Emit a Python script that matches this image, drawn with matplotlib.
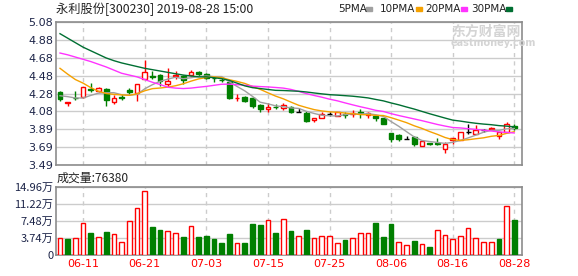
import numpy as np
import pandas as pd
import matplotlib
matplotlib.use('Agg')
import matplotlib.pyplot as plt

plt.rcParams['font.family'] = ['DejaVu Sans', 'Noto Sans CJK SC']
CJK = ['Noto Sans CJK SC', 'DejaVu Sans']

# trading days shown (Dragon Boat holiday 06-07 removed)
dates = pd.bdate_range('2019-06-05', '2019-08-28').drop(pd.Timestamp('2019-06-07'))
labels = [d.strftime('%m-%d') for d in dates]
tick_dates = ['06-11', '06-21', '07-03', '07-15', '07-25', '08-06', '08-16', '08-28']

opens = [4.306, 4.180, 4.240, 4.250, 4.332, 4.317, 4.335, 4.187, 4.250, 4.320,
         4.291, 4.443, 4.480, 4.491, 4.395, 4.484, 4.484, 4.487, 4.528, 4.502,
         4.462, 4.440, 4.417, 4.235, 4.250, 4.232, 4.158, 4.109, 4.135, 4.128,
         4.135, 4.083, 4.069, 3.987, 4.017, 4.054, 4.035, 4.061, 4.054, 4.075,
         4.046, 4.039, 4.009, 3.843, 3.824, 3.780, 3.798, 3.698, 3.739, 3.739,
         3.665, 3.765, 3.768, 3.861, 3.839, 3.880, 3.891, 3.817, 3.854, 3.920]
highs = [4.313, 4.194, 4.313, 4.360, 4.398, 4.354, 4.343, 4.269, 4.276, 4.343,
         4.395, 4.658, 4.539, 4.498, 4.565, 4.535, 4.491, 4.546, 4.539, 4.509,
         4.480, 4.454, 4.432, 4.276, 4.257, 4.243, 4.172, 4.176, 4.169, 4.183,
         4.150, 4.128, 4.091, 4.013, 4.076, 4.076, 4.083, 4.083, 4.098, 4.113,
         4.076, 4.046, 4.017, 3.850, 3.835, 3.817, 3.817, 3.757, 3.739, 3.787,
         3.750, 3.794, 3.861, 3.943, 3.935, 3.891, 3.913, 3.854, 3.965, 3.943]
lows = [4.202, 4.146, 4.213, 4.240, 4.306, 4.298, 4.150, 4.172, 4.213, 4.276,
        4.206, 4.443, 4.446, 4.372, 4.361, 4.443, 4.395, 4.484, 4.484, 4.446,
        4.417, 4.417, 4.224, 4.202, 4.194, 4.128, 4.083, 4.076, 4.113, 4.098,
        4.069, 4.083, 3.972, 3.972, 4.009, 4.032, 4.035, 4.009, 4.028, 4.009,
        4.017, 3.980, 3.950, 3.750, 3.757, 3.780, 3.705, 3.698, 3.709, 3.713,
        3.628, 3.724, 3.768, 3.831, 3.839, 3.861, 3.876, 3.776, 3.854, 3.880]
closes = [4.220, 4.190, 4.232, 4.358, 4.321, 4.346, 4.209, 4.239, 4.240, 4.298,
          4.387, 4.521, 4.469, 4.424, 4.424, 4.491, 4.439, 4.521, 4.498, 4.454,
          4.452, 4.435, 4.232, 4.240, 4.206, 4.150, 4.113, 4.139, 4.130, 4.158,
          4.083, 4.083, 3.980, 4.013, 4.054, 4.054, 4.076, 4.046, 4.065, 4.065,
          4.072, 4.017, 3.950, 3.780, 3.780, 3.780, 3.724, 3.757, 3.720, 3.728,
          3.720, 3.787, 3.861, 3.861, 3.880, 3.880, 3.898, 3.854, 3.946, 3.906]

ma5 = [4.26, 4.25, 4.235, 4.235, 4.264, 4.289, 4.293, 4.294, 4.271, 4.266,
       4.275, 4.337, 4.383, 4.420, 4.445, 4.466, 4.449, 4.460, 4.474, 4.480,
       4.473, 4.473, 4.415, 4.363, 4.314, 4.253, 4.188, 4.170, 4.148, 4.138,
       4.125, 4.119, 4.087, 4.063, 4.043, 4.037, 4.035, 4.049, 4.059, 4.057,
       4.061, 4.049, 4.030, 3.973, 3.920, 3.861, 3.802, 3.763, 3.751, 3.741,
       3.730, 3.742, 3.763, 3.791, 3.822, 3.854, 3.876, 3.875, 3.892, 3.897]
ma10 = [4.565, 4.50, 4.44, 4.40, 4.35, 4.31, 4.285, 4.275, 4.27, 4.265,
        4.282, 4.315, 4.339, 4.346, 4.356, 4.371, 4.393, 4.422, 4.447, 4.463,
        4.470, 4.461, 4.438, 4.419, 4.397, 4.363, 4.331, 4.293, 4.256, 4.226,
        4.189, 4.154, 4.129, 4.106, 4.091, 4.081, 4.077, 4.068, 4.061, 4.050,
        4.049, 4.042, 4.040, 4.016, 3.989, 3.961, 3.926, 3.897, 3.862, 3.831,
        3.796, 3.772, 3.763, 3.771, 3.782, 3.792, 3.809, 3.819, 3.842, 3.860]
ma20 = [4.735, 4.715, 4.69, 4.665, 4.64, 4.61, 4.58, 4.545, 4.51, 4.49,
        4.47, 4.44, 4.41, 4.385, 4.355, 4.345, 4.34, 4.345, 4.355, 4.364,
        4.376, 4.388, 4.389, 4.383, 4.377, 4.367, 4.362, 4.358, 4.352, 4.345,
        4.330, 4.308, 4.284, 4.263, 4.244, 4.222, 4.204, 4.181, 4.159, 4.138,
        4.119, 4.098, 4.085, 4.061, 4.040, 4.021, 4.002, 3.983, 3.962, 3.941,
        3.923, 3.907, 3.902, 3.894, 3.886, 3.877, 3.868, 3.858, 3.852, 3.846]
ma30 = [4.95, 4.90, 4.85, 4.80, 4.76, 4.72, 4.68, 4.65, 4.625, 4.605,
        4.585, 4.565, 4.55, 4.535, 4.52, 4.505, 4.49, 4.48, 4.47, 4.47,
        4.46, 4.45, 4.43, 4.40, 4.37, 4.35, 4.34, 4.33, 4.32, 4.318,
        4.314, 4.310, 4.302, 4.291, 4.281, 4.272, 4.267, 4.261, 4.255, 4.246,
        4.236, 4.219, 4.203, 4.180, 4.159, 4.135, 4.112, 4.086, 4.060, 4.036,
        4.012, 3.989, 3.978, 3.965, 3.954, 3.945, 3.938, 3.928, 3.922, 3.914]

volume = [36700, 35200, 36700, 69700, 48400, 38900, 50600, 45500, 27900, 74100,
          102700, 140100, 60900, 55000, 52100, 47700, 39600, 63100, 39600, 41800,
          35200, 26400, 46200, 25700, 26400, 68200, 66000, 76300, 48400, 78500,
          52800, 41100, 55000, 36700, 41100, 41100, 25700, 33000, 36700, 47700,
          47700, 70400, 39600, 68200, 27900, 21300, 30800, 23500, 17600, 54300,
          43300, 34500, 41100, 58700, 36700, 27900, 27900, 35200, 107100, 76380]
# 1 = up on previous close (red), 0 = down (green)
vol_up = [1, 0, 1, 1, 0, 1, 0, 1, 1, 1, 1, 1, 0, 0, 1, 1, 0, 1, 0, 0,
          0, 0, 0, 1, 0, 0, 0, 1, 0, 1, 0, 1, 0, 1, 1, 1, 1, 0, 1, 1,
          1, 0, 0, 0, 1, 1, 0, 1, 0, 1, 1, 1, 1, 1, 1, 1, 1, 0, 1, 0]

price_ticks = ['3.49', '3.69', '3.89', '4.08', '4.28', '4.48', '4.68', '4.88', '5.08']
vol_ticks = ['0', '3.74万', '7.48万', '11.22万', '14.96万']

RED = '#ff0000'
GREEN = '#007f00'
GRID = '#cccccc'
SPINE = '#8c8c8c'
LABEL = '#1c2448'

fig = plt.figure(figsize=(5.78, 2.76), dpi=100)
W, H = 578, 276
ax = fig.add_axes([56 / W, 1 - 165 / H, 466 / W, 143 / H])
axv = fig.add_axes([56 / W, 1 - 255 / H, 466 / W, 68 / H])

x = np.arange(len(dates))
o = np.array(opens); c = np.array(closes)
tick_idx = [labels.index(t) for t in tick_dates]

# candles
for i in x:
    if c[i] > o[i]:
        col, fc = RED, 'white'
    elif c[i] < o[i]:
        col, fc = GREEN, GREEN
    else:
        col, fc = 'black', 'black'
    ax.vlines(i, lows[i], highs[i], color=col, lw=1, zorder=3)
    if c[i] == o[i]:
        ax.hlines(c[i], i - 0.33, i + 0.33, color=col, lw=1, zorder=4)
    else:
        ax.bar(i, abs(c[i] - o[i]), 0.62, bottom=min(c[i], o[i]),
               facecolor=fc, edgecolor=col, lw=1, zorder=4)

ax.plot(x, ma5, color='#a0a0a0', lw=1, zorder=5)
ax.plot(x, ma10, color='#f5a100', lw=1, zorder=5)
ax.plot(x, ma20, color='#ff33ff', lw=1, zorder=5)
ax.plot(x, ma30, color='#006f32', lw=1, zorder=5)

ax.set_xlim(-0.52, 60.0)
ax.set_ylim(3.49, 5.08)
ax.set_yticks(np.linspace(3.49, 5.08, 9))
ax.set_yticklabels(price_ticks)
ax.set_xticks(tick_idx)
ax.set_xticklabels([])

# volume
vcols = [RED if u else GREEN for u in vol_up]
vfill = ['white' if u else GREEN for u in vol_up]
axv.bar(x, volume, 0.6, facecolor=vfill, edgecolor=vcols, lw=1, zorder=3)
axv.set_xlim(-0.52, 60.0)
axv.set_ylim(0, 149600)
axv.set_yticks(np.linspace(0, 149600, 5))
axv.set_yticklabels(vol_ticks, family=CJK)
axv.set_xticks(tick_idx)
axv.set_xticklabels(tick_dates, color=RED, fontsize=8)

for a in (ax, axv):
    a.grid(axis='y', color=GRID, lw=1, zorder=0)
    a.grid(axis='x', color=GRID, lw=1, ls=(0, (3, 3)), zorder=0)
    a.tick_params(length=0, labelsize=8, labelcolor=LABEL, pad=2)
    for s in a.spines.values():
        s.set_color(SPINE)
        s.set_linewidth(1.2)
axv.tick_params(axis='x', pad=3, labelcolor=RED)

fig.text(56 / W, 1 - 9 / H, '永利股份[300230] 2019-08-28 15:00', family=CJK,
         fontsize=8.8, va='center', ha='left', color='#222222')
fig.text(57 / W, 1 - 178 / H, '成交量:76380', family=CJK,
         fontsize=8.6, va='center', ha='left', color='#222222')

# MA legend
legend = [('5PMA', '#a0a0a0', 338, 366), ('10PMA', '#f5a100', 380, 416),
          ('20PMA', '#ff33ff', 425, 461), ('30PMA', '#006f32', 471, 506)]
for name, col, tx, sx in legend:
    fig.text(tx / W, 1 - 9 / H, name, fontsize=7.5, va='center', ha='left',
             color='#222222')
    fig.patches.append(plt.Rectangle((sx / W, 1 - 10.5 / H), 6 / W, 3 / H,
                                     transform=fig.transFigure, color=col))

# watermark
fig.text(451 / W, 1 - 32 / H, '东方财富网', family=CJK, fontsize=10,
         fontweight='bold', color='#d4d4d4', va='center', ha='left', zorder=1)
fig.text(451 / W, 1 - 43 / H, 'eastmoney.com', fontsize=7, fontweight='bold',
         color='#d4d4d4', va='center', ha='left', zorder=1)

fig.savefig('out.png', dpi=100)
